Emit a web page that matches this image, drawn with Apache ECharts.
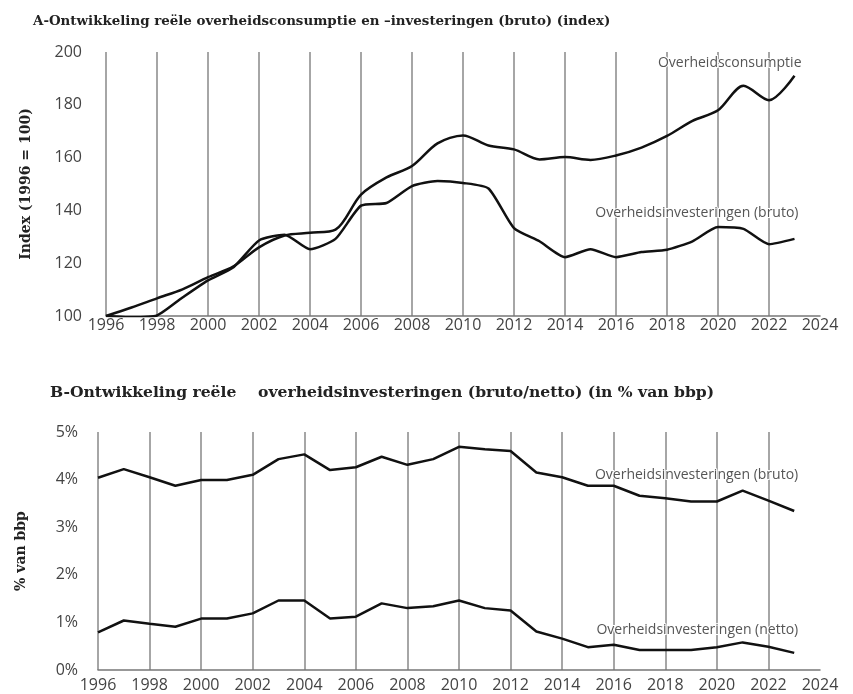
<!DOCTYPE html>
<html><head><meta charset="utf-8">
<script src="https://cdn.jsdelivr.net/npm/echarts@6/dist/echarts.min.js"></script>
<style>html,body{margin:0;padding:0;background:#fff}#c{width:853px;height:694px}</style>
</head><body><div id="c"></div>
<script>
const years = [1996,1997,1998,1999,2000,2001,2002,2003,2004,2005,2006,2007,2008,2009,2010,2011,2012,2013,2014,2015,2016,2017,2018,2019,2020,2021,2022,2023];
const consumptie = [100,103.2,106.7,110.1,114.7,118.8,126.0,130.5,131.5,132.7,146,152.5,156.8,165.4,168.4,164.6,163.1,159.3,160.2,159.1,160.8,163.8,168.2,173.9,177.9,187.2,181.7,191];
const investBrutoIdx = [100,99.5,100.2,107,113.5,118.5,128.6,130.8,125.3,129.2,141.8,142.8,149.2,151.1,150.4,148.3,133.3,128.3,122.3,125.3,122.3,124.2,125.1,128.3,133.7,133,127.2,129.2];
const brutoPct = [4.04,4.22,4.05,3.87,3.99,3.99,4.10,4.43,4.53,4.20,4.26,4.48,4.31,4.43,4.69,4.64,4.60,4.15,4.05,3.87,3.87,3.66,3.61,3.54,3.54,3.77,3.56,3.34];
const nettoPct = [0.79,1.04,0.97,0.91,1.08,1.08,1.19,1.46,1.46,1.08,1.12,1.40,1.30,1.34,1.46,1.30,1.25,0.81,0.66,0.48,0.53,0.42,0.42,0.42,0.48,0.58,0.49,0.36];
const titleA = 'A-Ontwikkeling reële overheidsconsumptie en –investeringen (bruto) (index)';
const titleB = 'B-Ontwikkeling reële    overheidsinvesteringen (bruto/netto) (in % van bbp)';

const pairs = arr => years.map((y,i)=>[y, arr[i]]);
const serifFont = '"DejaVu Serif", serif';
const sansFont = '"Open Sans", Lato, sans-serif';
const lbl = {color:'#444', fontFamily:sansFont, fontSize:16};

function xAx(gi, margin){
  return {type:'value', gridIndex:gi, min:1996, max:2024, interval:2,
    axisLine:{show:true, onZero:false, lineStyle:{color:'#777', width:1.5}},
    axisTick:{show:false},
    axisLabel:Object.assign({margin:margin, showMaxLabel:true, formatter: v => String(v)}, lbl),
    splitLine:{show:true, showMinLine:true, showMaxLine:false, lineStyle:{color:'#888', width:1.5}}};
}
function endMark(last, text, dx, dy){
  return {symbol:'circle', symbolSize:0, silent:true,
    data:[{coord:last, label:{show:true, formatter:text, position:'inside', align:'right', verticalAlign:'middle',
      offset:[dx,dy], color:'#555', fontFamily:sansFont, fontSize:14,
      textBorderColor:'#fff', textBorderWidth:2}}]};
}
const line = {type:'line', showSymbol:false, symbol:'none', lineStyle:{color:'#111', width:2.5}, itemStyle:{color:'#111'}};

const chart = echarts.init(document.getElementById('c'), null, {renderer:'canvas'});
chart.setOption({
  backgroundColor:'#fff',
  animation:false,
  title:[
    {text:titleA, left:28, top:10, textStyle:{fontFamily:serifFont, fontSize:13.4, fontWeight:'bold', color:'#222'}},
    {text:titleB, left:45, top:380, textStyle:{fontFamily:serifFont, fontSize:15.6, fontWeight:'bold', color:'#222'}}
  ],
  grid:[
    {left:106, right:33, top:52, bottom:378},
    {left:98, right:33, top:432, bottom:24}
  ],
  xAxis:[xAx(0,1), xAx(1,7)],
  yAxis:[
    {type:'value', gridIndex:0, min:100, max:200, interval:20,
     name:'Index (1996 = 100)', nameLocation:'middle', nameGap:73,
     nameTextStyle:{fontFamily:serifFont, fontSize:14, fontWeight:'bold', color:'#222'},
     axisLine:{show:false}, axisTick:{show:false}, splitLine:{show:false},
     axisLabel:Object.assign({margin:24}, lbl)},
    {type:'value', gridIndex:1, min:0, max:5, interval:1,
     name:'% van bbp', nameLocation:'middle', nameGap:70,
     nameTextStyle:{fontFamily:serifFont, fontSize:14, fontWeight:'bold', color:'#222'},
     axisLine:{show:false}, axisTick:{show:false}, splitLine:{show:false},
     axisLabel:Object.assign({margin:20, formatter:'{value}%'}, lbl)}
  ],
  series:[
    Object.assign({}, line, {name:'Overheidsconsumptie', xAxisIndex:0, yAxisIndex:0, smooth:0.3, data:pairs(consumptie),
      markPoint:endMark([2023, consumptie[27]], 'Overheidsconsumptie', 7, -13)}),
    Object.assign({}, line, {name:'Overheidsinvesteringen (bruto)', xAxisIndex:0, yAxisIndex:0, smooth:0.2, data:pairs(investBrutoIdx),
      markPoint:endMark([2023, investBrutoIdx[27]], 'Overheidsinvesteringen (bruto)', 4, -26)}),
    Object.assign({}, line, {name:'bruto', xAxisIndex:1, yAxisIndex:1, data:pairs(brutoPct),
      markPoint:endMark([2023, brutoPct[27]], 'Overheidsinvesteringen (bruto)', 4, -36)}),
    Object.assign({}, line, {name:'netto', xAxisIndex:1, yAxisIndex:1, data:pairs(nettoPct),
      markPoint:endMark([2023, nettoPct[27]], 'Overheidsinvesteringen (netto)', 4, -23)})
  ]
});
</script></body></html>
